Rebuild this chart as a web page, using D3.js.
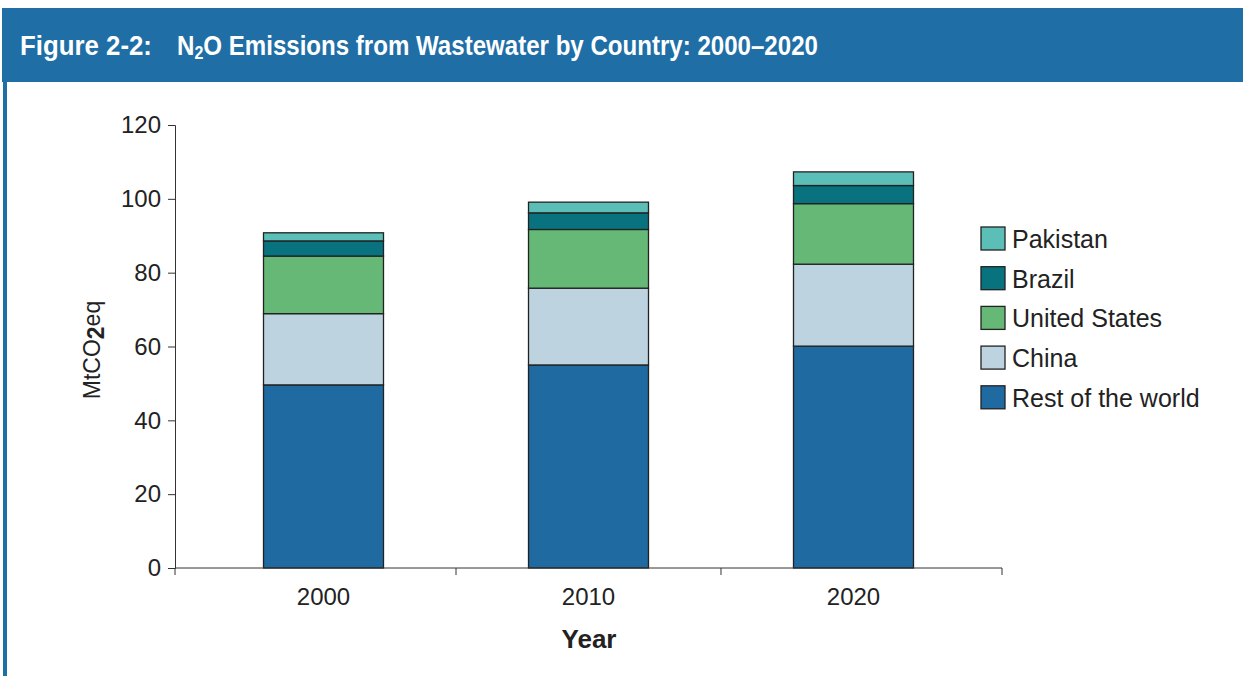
<!DOCTYPE html>
<html>
<head>
<meta charset="utf-8">
<script src="https://cdn.jsdelivr.net/npm/d3@7"></script>
<style>
  html, body { margin: 0; padding: 0; background: #fff; }
  svg { display: block; font-family: "Liberation Sans", Arial, Helvetica, sans-serif; }
</style>
</head>
<body>
<svg id="chart" width="1243" height="676"></svg>
<script>
// ---- data ----
const years = ["2000", "2010", "2020"];
const seriesNames = ["Rest of the world", "China", "United States", "Brazil", "Pakistan"];
const restOfWorld = [49.6, 55.0, 60.1];
const china = [19.3, 20.8, 22.2];
const unitedStates = [15.6, 15.9, 16.4];
const brazil = [4.1, 4.5, 4.9];
const pakistan = [2.2, 2.9, 3.7];
const yTicks = [0, 20, 40, 60, 80, 100, 120];
const colors = ["#1f6aa0", "#bdd3e0", "#66b877", "#08737f", "#5bbfb8"];

const table = years.map((y, i) => ({
  year: y,
  "Rest of the world": restOfWorld[i],
  "China": china[i],
  "United States": unitedStates[i],
  "Brazil": brazil[i],
  "Pakistan": pakistan[i]
}));

const svg = d3.select("#chart");
const BLUE = "#1f6ea6";

// header bar and left border
svg.append("rect").attr("x", 2).attr("y", 8).attr("width", 1241).attr("height", 74).attr("fill", BLUE);
svg.append("rect").attr("x", 3).attr("y", 82).attr("width", 4).attr("height", 594).attr("fill", BLUE);

// title
function fitText(sel, width) {
  const w = sel.node().getComputedTextLength();
  const x = +sel.attr("x"), y = +sel.attr("y");
  sel.attr("transform", `translate(${x},${y}) scale(${width / w},1) translate(${-x},${-y})`);
}
const t1 = svg.append("text").attr("x", 20).attr("y", 55)
  .attr("fill", "#fff").attr("font-weight", "bold").attr("font-size", 27)
  .text("Figure 2-2:");
fitText(t1, 132);
const t2 = svg.append("text").attr("x", 177).attr("y", 55)
  .attr("fill", "#fff").attr("font-weight", "bold").attr("font-size", 27);
t2.append("tspan").text("N");
t2.append("tspan").attr("font-size", 18).attr("dy", 4).text("2");
t2.append("tspan").attr("dy", -4).text("O Emissions from Wastewater by Country: 2000\u20132020");
fitText(t2, 641);

// scales
const x = d3.scaleBand().domain(years).range([175, 1002]).paddingInner(0.5472).paddingOuter(0.334);
const y = d3.scaleLinear().domain([0, 120]).range([568, 125]);

const stack = d3.stack().keys(seriesNames);
const layers = stack(table);

const g = svg.append("g");
g.selectAll("g.layer").data(layers).join("g")
  .attr("class", "layer")
  .attr("fill", (d, i) => colors[i])
  .selectAll("rect").data(d => d).join("rect")
  .attr("x", d => x(d.data.year))
  .attr("width", x.bandwidth())
  .attr("y", d => y(d[1]))
  .attr("height", d => y(d[0]) - y(d[1]))
  .attr("stroke", "#222")
  .attr("stroke-width", 1.3);

// y axis
const yAxis = d3.axisLeft(y).tickValues(yTicks).tickSize(7).tickPadding(7).tickFormat(d3.format("d"));
const ya = svg.append("g").attr("transform", "translate(175,0)").call(yAxis);
ya.selectAll("path, line").attr("stroke", "#333");
ya.selectAll("text").attr("font-size", 24).attr("fill", "#222")
  .attr("font-family", "'Liberation Sans', Arial, sans-serif");

// x axis
const xAxis = d3.axisBottom(x).tickSize(0).tickPadding(20);
const xa = svg.append("g").attr("transform", "translate(0,568)").call(xAxis);
xa.select("path").attr("stroke", "#333").attr("d", "M175,0H1002");
xa.selectAll("text").attr("font-size", 24).attr("fill", "#222")
  .attr("font-family", "'Liberation Sans', Arial, sans-serif");
// category boundary ticks
const step = x.step();
const bounds = [175].concat(years.slice(1).map(yr => x(yr) - (step - x.bandwidth()) / 2)).concat([1002]);
xa.selectAll("line.bound").data(bounds).join("line")
  .attr("class", "bound")
  .attr("x1", d => d).attr("x2", d => d)
  .attr("y1", 0).attr("y2", 7)
  .attr("stroke", "#333");

// axis titles
svg.append("text").attr("x", 589).attr("y", 648).attr("text-anchor", "middle")
  .attr("font-size", 26).attr("font-weight", "bold").attr("fill", "#222").text("Year");

const yl = svg.append("text").attr("transform", "translate(100,350) rotate(-90)")
  .attr("text-anchor", "middle").attr("font-size", 23).attr("fill", "#222");
yl.append("tspan").text("MtCO");
yl.append("tspan").attr("font-weight", "bold").attr("dy", 4).text("2");
yl.append("tspan").attr("dy", -4).text("eq");

// legend
const legendItems = seriesNames.map((n, i) => ({ name: n, color: colors[i] })).reverse();
const lg = svg.append("g").selectAll("g").data(legendItems).join("g")
  .attr("transform", (d, i) => `translate(981,${227 + i * 39.7})`);
lg.append("rect").attr("width", 24).attr("height", 23)
  .attr("fill", d => d.color).attr("stroke", "#222").attr("stroke-width", 1.3);
lg.append("text").attr("x", 31).attr("y", 21).attr("font-size", 25).attr("fill", "#222")
  .text(d => d.name);
</script>
</body>
</html>
